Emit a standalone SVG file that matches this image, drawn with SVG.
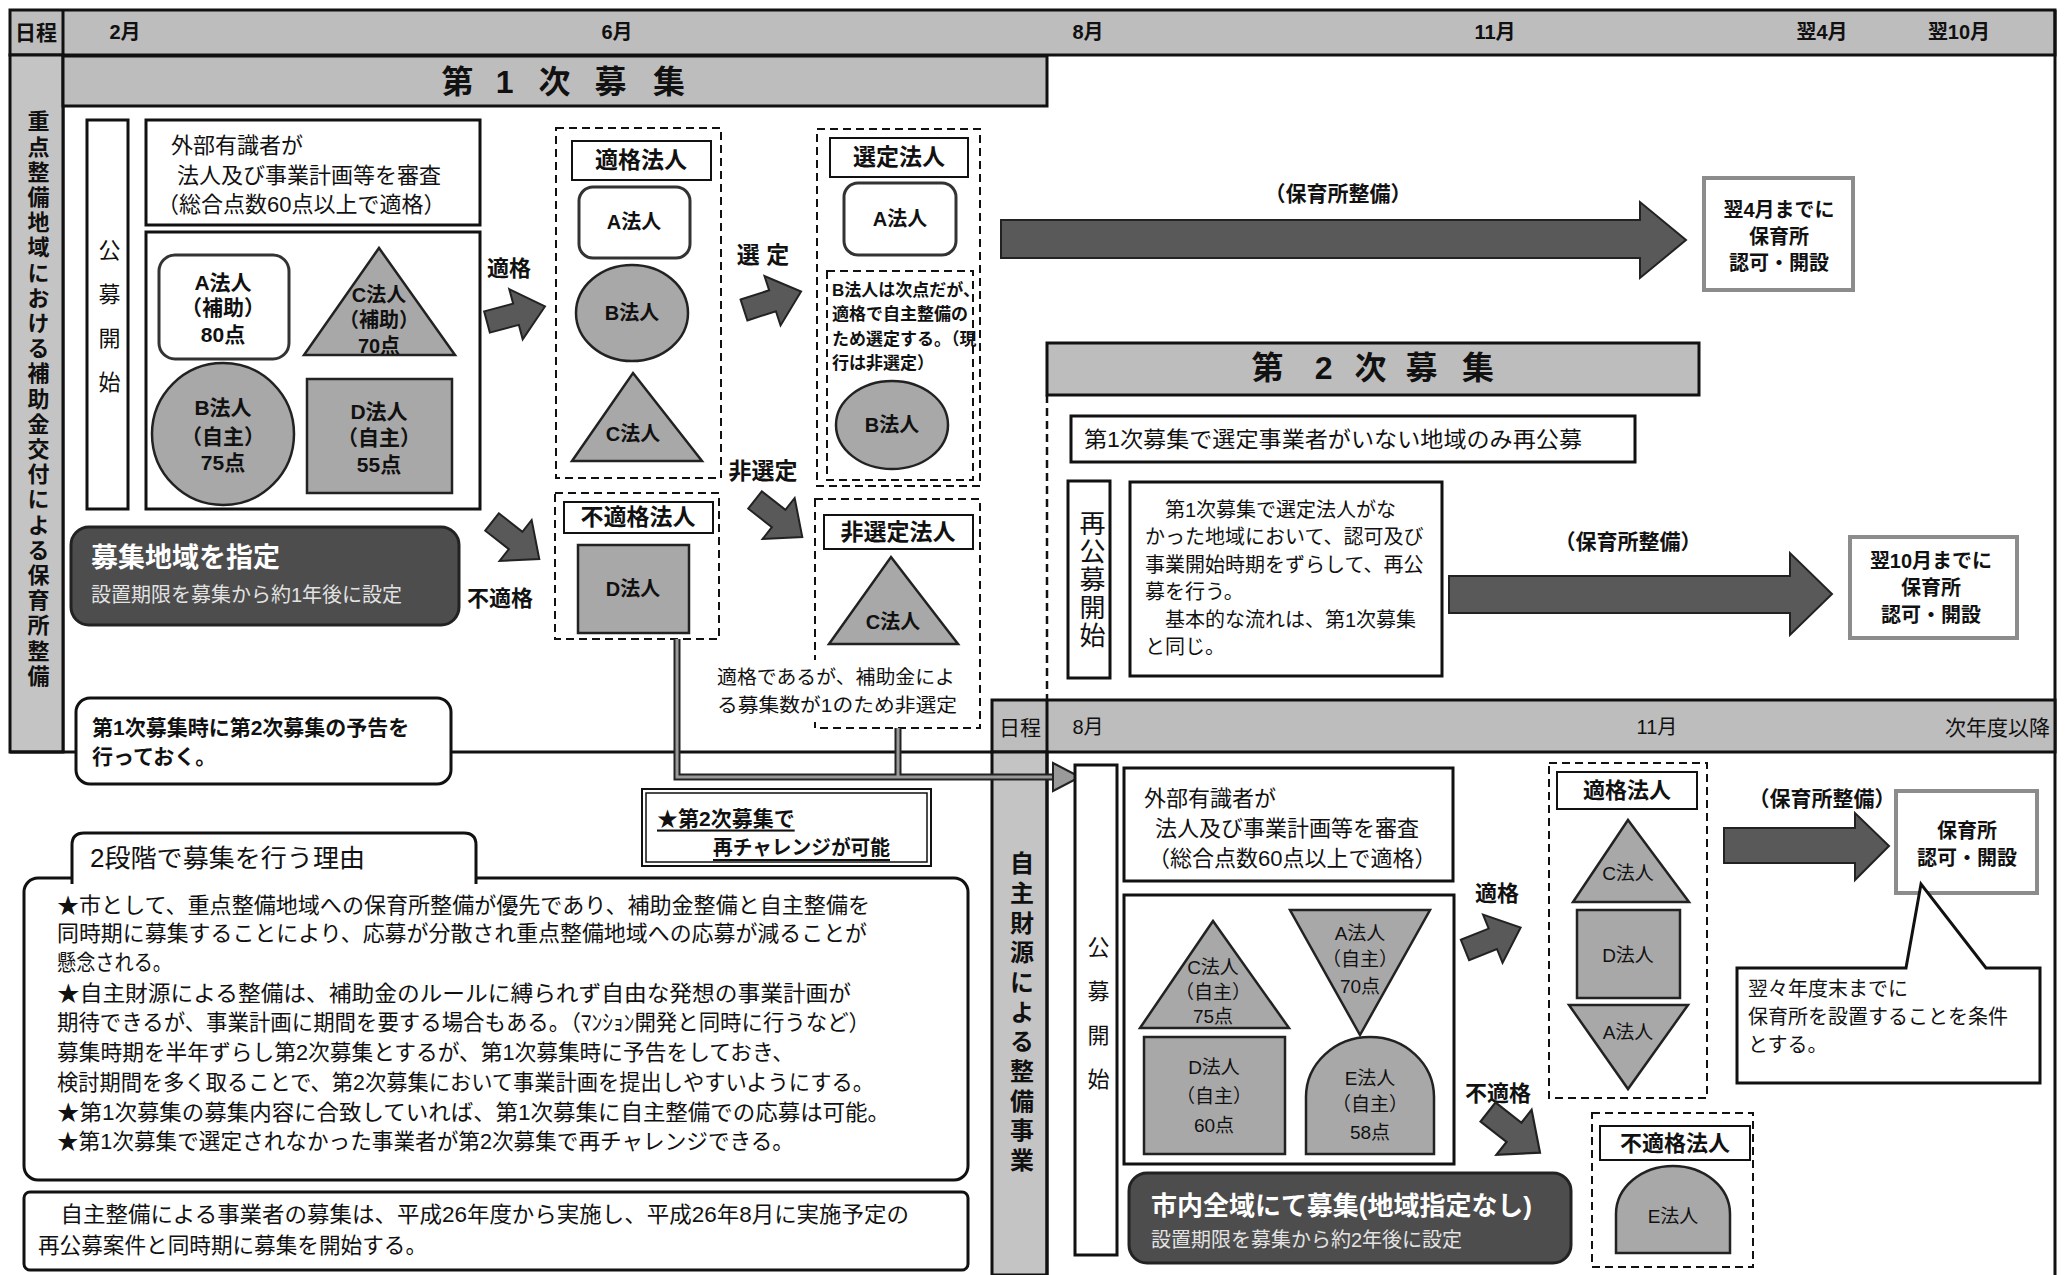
<svg xmlns="http://www.w3.org/2000/svg" width="2066" height="1275" viewBox="0 0 2066 1275">
<style>
text{font-family:"Liberation Sans","Noto Sans CJK JP",sans-serif;fill:#111;dominant-baseline:central}
.b{font-weight:bold}
.m{text-anchor:middle}
.vt{writing-mode:vertical-rl;text-orientation:upright}
.band{fill:#bdbdbd;stroke:#111;stroke-width:3}
.col{fill:#c4c4c4;stroke:#111;stroke-width:3}
.box{fill:#fff;stroke:#111;stroke-width:3}
.thin{fill:#fff;stroke:#111;stroke-width:2}
.dash{fill:none;stroke:#111;stroke-width:2;stroke-dasharray:8 5}
.shape{fill:#a8a8a8;stroke:#222;stroke-width:2.5}
.rbox{fill:#fff;stroke:#333;stroke-width:3}
.dark{fill:#4d4d4d;stroke:#222;stroke-width:3}
.arr{fill:#595959;stroke:#222;stroke-width:2}
.gbox{fill:#fff;stroke:#8c8c8c;stroke-width:4}
.frame{fill:none;stroke:#111;stroke-width:3}
.s17{font-size:17px}.s19{font-size:19px}.s20{font-size:20px}.s21{font-size:21px}.s22{font-size:22px}.s23{font-size:23px}
.w{fill:#fff}.lg{fill:#e2e2e2}
</style>
<defs>
<polygon id="barrow" points="0,-11 30,-11 30,-26 60,0 30,26 30,11 0,11"/>
</defs>
<rect width="2066" height="1275" fill="#fff"/>

<g id="frame">
<rect class="band" x="10" y="10" width="2045" height="45"/>
<line class="frame" x1="63" y1="10" x2="63" y2="752"/>
<rect class="col" x="10" y="55" width="53" height="697"/>
<line class="frame" x1="10" y1="752" x2="992" y2="752"/>
<line class="frame" x1="2055" y1="10" x2="2055" y2="1275"/>
<text class="b s21 m" x="36" y="32">日程</text>
<text class="b s20 m" x="125" y="32">2月</text>
<text class="b s20 m" x="617" y="32">6月</text>
<text class="b s20 m" x="1088" y="32">8月</text>
<text class="b s20 m" x="1495" y="32">11月</text>
<text class="b s20 m" x="1822" y="32">翌4月</text>
<text class="b s20 m" x="1959" y="32">翌10月</text>
<text class="b s22 vt" x="36" y="110" style="letter-spacing:3.2px">重点整備地域における補助金交付による保育所整備</text>
</g>

<g id="banner1">
<rect class="band" x="63" y="56" width="984" height="50"/>
<text class="b m" style="font-size:32px" y="82"><tspan x="462">第</tspan> <tspan x="509">1</tspan> <tspan x="559">次</tspan> <tspan x="615">募</tspan> <tspan x="669">集</tspan></text>
</g>

<g id="koubo1">
<rect class="box" x="87" y="120" width="41" height="389"/>
<text class="s22 vt" x="107" y="239" style="letter-spacing:22px">公募開始</text>
</g>

<g id="shinsa1">
<rect class="box" x="146" y="120" width="334" height="105"/>
<text class="s22" x="171" y="145">外部有識者が</text>
<text class="s22" x="177" y="175">法人及び事業計画等を審査</text>
<text class="s22" x="157" y="204">（総合点数60点以上で適格）</text>
</g>

<g id="applicants1">
<rect class="box" x="146" y="232" width="334" height="277"/>
<rect class="rbox" x="159" y="255" width="130" height="104" rx="16"/>
<text class="b s21 m" x="223" y="282">A法人</text>
<text class="b s21 m" x="223" y="307">（補助）</text>
<text class="b s21 m" x="223" y="334">80点</text>
<polygon class="shape" points="379,248 455,355 304,355"/>
<text class="b s20 m" x="379" y="295">C法人</text>
<text class="b s20 m" x="379" y="320">（補助）</text>
<text class="b s20 m" x="379" y="346">70点</text>
<circle class="shape" cx="223" cy="434" r="71"/>
<text class="b s21 m" x="223" y="407">B法人</text>
<text class="b s21 m" x="223" y="436">（自主）</text>
<text class="b s21 m" x="223" y="462">75点</text>
<rect class="shape" x="307" y="379" width="145" height="114"/>
<text class="b s21 m" x="379" y="411">D法人</text>
<text class="b s21 m" x="379" y="437">（自主）</text>
<text class="b s21 m" x="379" y="464">55点</text>
</g>

<g id="area1">
<rect class="dark" x="71" y="527" width="388" height="98" rx="18"/>
<text class="b w" style="font-size:27px" x="91" y="558">募集地域を指定</text>
<text class="s20 lg" x="91" y="595">設置期限を募集から約1年後に設定</text>
</g>

<g id="judge1">
<text class="b s22 m" x="509" y="268">適格</text>
<use href="#barrow" class="arr" transform="translate(487,322) rotate(-15)"/>
<use href="#barrow" class="arr" transform="translate(492,522) rotate(38)"/>
<text class="b s22 m" x="500" y="598">不適格</text>
</g>

<g id="qualified1">
<rect class="dash" x="556" y="128" width="165" height="350"/>
<rect class="thin" x="572" y="141" width="139" height="39"/>
<text class="b s23 m" x="641" y="160">適格法人</text>
<rect class="rbox" x="579" y="187" width="111" height="71" rx="14"/>
<text class="b s20 m" x="634" y="222">A法人</text>
<ellipse class="shape" cx="632" cy="313" rx="56" ry="48"/>
<text class="b s20 m" x="632" y="313">B法人</text>
<polygon class="shape" points="633,373 702,461 572,461"/>
<text class="b s20 m" x="633" y="434">C法人</text>
</g>

<g id="unqualified1">
<rect class="dash" x="555" y="493" width="164" height="146"/>
<rect class="thin" x="564" y="502" width="149" height="31"/>
<text class="b s23 m" x="638" y="517">不適格法人</text>
<rect class="shape" x="578" y="545" width="111" height="88"/>
<text class="b s20 m" x="633" y="589">D法人</text>
</g>

<g id="select1">
<text class="b s23 m" x="763" y="255">選 定</text>
<use href="#barrow" class="arr" transform="translate(744,310) rotate(-18)"/>
<text class="b s23 m" x="763" y="471">非選定</text>
<use href="#barrow" class="arr" transform="translate(755,500) rotate(38)"/>
</g>

<g id="selected1">
<rect class="dash" x="817" y="129" width="163" height="357"/>
<rect class="thin" x="830" y="138" width="138" height="39"/>
<text class="b s23 m" x="899" y="157">選定法人</text>
<rect class="rbox" x="844" y="183" width="112" height="72" rx="14"/>
<text class="b s20 m" x="900" y="219">A法人</text>
<rect class="dash" x="827" y="271" width="146" height="209"/>
<text class="b s17" x="832" y="290">B法人は次点だが、</text>
<text class="b s17" x="832" y="314">適格で自主整備の</text>
<text class="b s17" x="832" y="339">ため選定する。（現</text>
<text class="b s17" x="832" y="363">行は非選定）</text>
<ellipse class="shape" cx="892" cy="425" rx="56" ry="44"/>
<text class="b s20 m" x="892" y="425">B法人</text>
</g>

<g id="unselected1">
<rect class="dash" x="815" y="499" width="165" height="229"/>
<rect class="thin" x="824" y="515" width="149" height="34"/>
<text class="b s23 m" x="898" y="532">非選定法人</text>
<polygon class="shape" points="891,557 958,644 829,644"/>
<text class="b s20 m" x="893" y="622">C法人</text>
<rect x="712" y="660" width="250" height="62" fill="#fff"/>
<text class="s19" x="717" y="677" textLength="238" lengthAdjust="spacingAndGlyphs">適格であるが、補助金によ</text>
<text class="s19" x="717" y="705" textLength="240" lengthAdjust="spacingAndGlyphs">る募集数が1のため非選定</text>
</g>

<g id="plan1">
<polygon class="arr" points="1001,220 1640,220 1640,202 1686,240 1640,278 1640,258 1001,258"/>
<text class="b s21 m" x="1338" y="193">（保育所整備）</text>
<rect class="gbox" x="1704" y="178" width="149" height="112"/>
<text class="b s20 m" x="1779" y="210">翌4月までに</text>
<text class="b s20 m" x="1779" y="237">保育所</text>
<text class="b s20 m" x="1779" y="263">認可・開設</text>
</g>

<g id="banner2">
<line class="dash" x1="1047" y1="395" x2="1047" y2="700" style="stroke-width:2.5"/>
<rect class="band" x="1047" y="343" width="652" height="52"/>
<text class="b m" style="font-size:32px" y="368"><tspan x="1272">第</tspan> <tspan x="1328">2</tspan> <tspan x="1375">次</tspan> <tspan x="1426">募</tspan> <tspan x="1478">集</tspan></text>
</g>

<g id="recall">
<rect class="box" x="1071" y="416" width="564" height="46"/>
<text class="s22" x="1084" y="439" textLength="498" lengthAdjust="spacingAndGlyphs">第1次募集で選定事業者がいない地域のみ再公募</text>
<rect class="box" x="1068" y="481" width="42" height="197"/>
<text class="vt" style="font-size:26px;letter-spacing:2px" x="1090" y="510">再公募開始</text>
<rect class="box" x="1130" y="482" width="312" height="194"/>
<text class="s20" x="1145" y="510">　第1次募集で選定法人がな</text>
<text class="s20" x="1145" y="537">かった地域において、認可及び</text>
<text class="s20" x="1145" y="565">事業開始時期をずらして、再公</text>
<text class="s20" x="1145" y="592">募を行う。</text>
<text class="s20" x="1145" y="620">　基本的な流れは、第1次募集</text>
<text class="s20" x="1145" y="647">と同じ。</text>
</g>

<g id="plan2">
<polygon class="arr" points="1449,576 1790,576 1790,553 1832,594 1790,635 1790,613 1449,613"/>
<text class="b s21 m" x="1628" y="541">（保育所整備）</text>
<rect class="gbox" x="1850" y="537" width="167" height="101"/>
<text class="b s20 m" x="1931" y="561">翌10月までに</text>
<text class="b s20 m" x="1931" y="588">保育所</text>
<text class="b s20 m" x="1931" y="615">認可・開設</text>
</g>

<g id="notice">
<rect class="box" x="76" y="698" width="375" height="86" rx="14"/>
<text class="b s21" x="92" y="727">第1次募集時に第2次募集の予告を</text>
<text class="b s21" x="92" y="756">行っておく。</text>
</g>

<g id="challenge">
<rect x="642" y="789" width="289" height="77" fill="#fff" stroke="#111" stroke-width="2"/>
<rect x="646" y="793" width="281" height="69" fill="none" stroke="#111" stroke-width="1.5"/>
<text class="b s21" x="657" y="818" style="text-decoration:underline">★第2次募集で</text>
<text class="b s20" x="713" y="848" textLength="177" lengthAdjust="spacingAndGlyphs" style="text-decoration:underline">再チャレンジが可能</text>
</g>

<g id="reasons">
<rect class="box" x="24" y="878" width="944" height="302" rx="14"/>
<path d="M72,884 V845 Q72,833 84,833 H464 Q476,833 476,845 V884" fill="#fff" stroke="#111" stroke-width="3"/>
<text x="90" y="858" style="font-size:25px" textLength="275" lengthAdjust="spacingAndGlyphs">2段階で募集を行う理由</text>
<text class="s22" x="57" y="905" textLength="813" lengthAdjust="spacingAndGlyphs">★市として、重点整備地域への保育所整備が優先であり、補助金整備と自主整備を</text>
<text class="s22" x="57" y="933" textLength="810" lengthAdjust="spacingAndGlyphs">同時期に募集することにより、応募が分散され重点整備地域への応募が減ることが</text>
<text class="s22" x="57" y="962" textLength="115" lengthAdjust="spacingAndGlyphs">懸念される。</text>
<text class="s22" x="57" y="993" textLength="794" lengthAdjust="spacingAndGlyphs">★自主財源による整備は、補助金のルールに縛られず自由な発想の事業計画が</text>
<text class="s22" x="57" y="1022" textLength="813" lengthAdjust="spacingAndGlyphs">期待できるが、事業計画に期間を要する場合もある。（ﾏﾝｼｮﾝ開発と同時に行うなど）</text>
<text class="s22" x="57" y="1052" textLength="737" lengthAdjust="spacingAndGlyphs">募集時期を半年ずらし第2次募集とするが、第1次募集時に予告をしておき、</text>
<text class="s22" x="57" y="1082" textLength="817" lengthAdjust="spacingAndGlyphs">検討期間を多く取ることで、第2次募集において事業計画を提出しやすいようにする。</text>
<text class="s22" x="57" y="1112" textLength="833" lengthAdjust="spacingAndGlyphs">★第1次募集の募集内容に合致していれば、第1次募集に自主整備での応募は可能。</text>
<text class="s22" x="57" y="1141" textLength="737" lengthAdjust="spacingAndGlyphs">★第1次募集で選定されなかった事業者が第2次募集で再チャレンジできる。</text>
</g>

<g id="footnote">
<rect class="box" x="24" y="1192" width="944" height="78" rx="6"/>
<text class="s22" x="38" y="1214" textLength="871" lengthAdjust="spacingAndGlyphs">　自主整備による事業者の募集は、平成26年度から実施し、平成26年8月に実施予定の</text>
<text class="s22" x="38" y="1245" textLength="389" lengthAdjust="spacingAndGlyphs">再公募案件と同時期に募集を開始する。</text>
</g>

<g id="frame2">
<rect class="band" x="992" y="700" width="1063" height="52"/>
<rect class="col" x="992" y="752" width="55" height="523"/>
<line class="frame" x1="1047" y1="700" x2="1047" y2="1275"/>
<text class="s21 m" x="1020" y="727">日程</text>
<text class="s20 m" x="1088" y="727">8月</text>
<text class="s20 m" x="1657" y="727">11月</text>
<text class="s21" x="2050" y="727" style="text-anchor:end">次年度以降</text>
<text class="b vt" style="font-size:24px;letter-spacing:5.7px" x="1020" y="851">自主財源による整備事業</text>
</g>

<g id="connectors">
<path d="M677,639 V777 H1056 M898,728 V777" fill="none" stroke="#222" stroke-width="7"/>
<path d="M677,639 V777 H1056 M898,728 V777" fill="none" stroke="#9a9a9a" stroke-width="3"/>
<polygon points="1053,763 1080,777 1053,791" fill="#9a9a9a" stroke="#222" stroke-width="2"/>
</g>

<g id="koubo2">
<rect class="box" x="1075" y="765" width="42" height="490"/>
<text class="s22 vt" x="1096" y="936" style="letter-spacing:22px">公募開始</text>
</g>

<g id="shinsa2">
<rect class="box" x="1124" y="768" width="329" height="113"/>
<text class="s22" x="1144" y="798">外部有識者が</text>
<text class="s22" x="1155" y="828">法人及び事業計画等を審査</text>
<text class="s22" x="1148" y="858">（総合点数60点以上で適格）</text>
</g>

<g id="applicants2">
<rect class="box" x="1124" y="895" width="330" height="269"/>
<polygon class="shape" points="1213,921 1289,1028 1140,1028"/>
<text class="s19 m" x="1213" y="967">C法人</text>
<text class="s19 m" x="1213" y="992">（自主）</text>
<text class="s19 m" x="1213" y="1016">75点</text>
<polygon class="shape" points="1290,910 1430,910 1360,1035"/>
<text class="s19 m" x="1360" y="933">A法人</text>
<text class="s19 m" x="1360" y="959">（自主）</text>
<text class="s19 m" x="1360" y="986">70点</text>
<rect class="shape" x="1144" y="1037" width="141" height="117"/>
<text class="s19 m" x="1214" y="1067">D法人</text>
<text class="s19 m" x="1214" y="1096">（自主）</text>
<text class="s19 m" x="1214" y="1125">60点</text>
<path class="shape" d="M1306,1154 V1097 A64,60 0 0 1 1434,1097 V1154 Z"/>
<text class="s19 m" x="1370" y="1078">E法人</text>
<text class="s19 m" x="1370" y="1104">（自主）</text>
<text class="s19 m" x="1370" y="1132">58点</text>
</g>

<g id="area2">
<rect class="dark" x="1129" y="1173" width="442" height="90" rx="18"/>
<text class="b w" style="font-size:26px" x="1151" y="1206" textLength="381" lengthAdjust="spacingAndGlyphs">市内全域にて募集(地域指定なし)</text>
<text class="s20 lg" x="1151" y="1240">設置期限を募集から約2年後に設定</text>
</g>

<g id="judge2">
<text class="b s22 m" x="1497" y="893">適格</text>
<use href="#barrow" class="arr" transform="translate(1465,950) rotate(-22)"/>
<text class="b s22 m" x="1498" y="1093">不適格</text>
<use href="#barrow" class="arr" transform="translate(1488,1112) rotate(38) scale(1.1)"/>
</g>

<g id="qualified2">
<rect class="dash" x="1549" y="763" width="158" height="335"/>
<rect class="thin" x="1557" y="772" width="140" height="37"/>
<text class="b s22 m" x="1627" y="790">適格法人</text>
<polygon class="shape" points="1628,820 1689,902 1573,902"/>
<text class="s19 m" x="1628" y="873">C法人</text>
<rect class="shape" x="1577" y="910" width="103" height="88"/>
<text class="s19 m" x="1628" y="955">D法人</text>
<polygon class="shape" points="1569,1005 1688,1005 1628,1089"/>
<text class="s19 m" x="1628" y="1032">A法人</text>
</g>

<g id="unqualified2">
<rect class="dash" x="1592" y="1113" width="161" height="154"/>
<rect class="thin" x="1600" y="1126" width="150" height="34"/>
<text class="b s22 m" x="1675" y="1143">不適格法人</text>
<path class="shape" d="M1616,1253 V1214 A57,48 0 0 1 1730,1214 V1253 Z"/>
<text class="s19 m" x="1673" y="1216">E法人</text>
</g>

<g id="plan3">
<polygon class="arr" points="1724,828 1855,828 1855,813 1889,846 1855,880 1855,863 1724,863"/>
<text class="b s21 m" x="1822" y="798">（保育所整備）</text>
<rect class="gbox" x="1896" y="791" width="141" height="102"/>
<text class="b s20 m" x="1967" y="831">保育所</text>
<text class="b s20 m" x="1967" y="858">認可・開設</text>
</g>

<g id="callout">
<path d="M1737,968 H1906 L1921,884 L1986,968 H2040 V1083 H1737 Z" fill="#fff" stroke="#111" stroke-width="3"/>
<text class="s20" x="1748" y="989">翌々年度末までに</text>
<text class="s20" x="1748" y="1017">保育所を設置することを条件</text>
<text class="s20" x="1748" y="1045">とする。</text>
</g>
</svg>
